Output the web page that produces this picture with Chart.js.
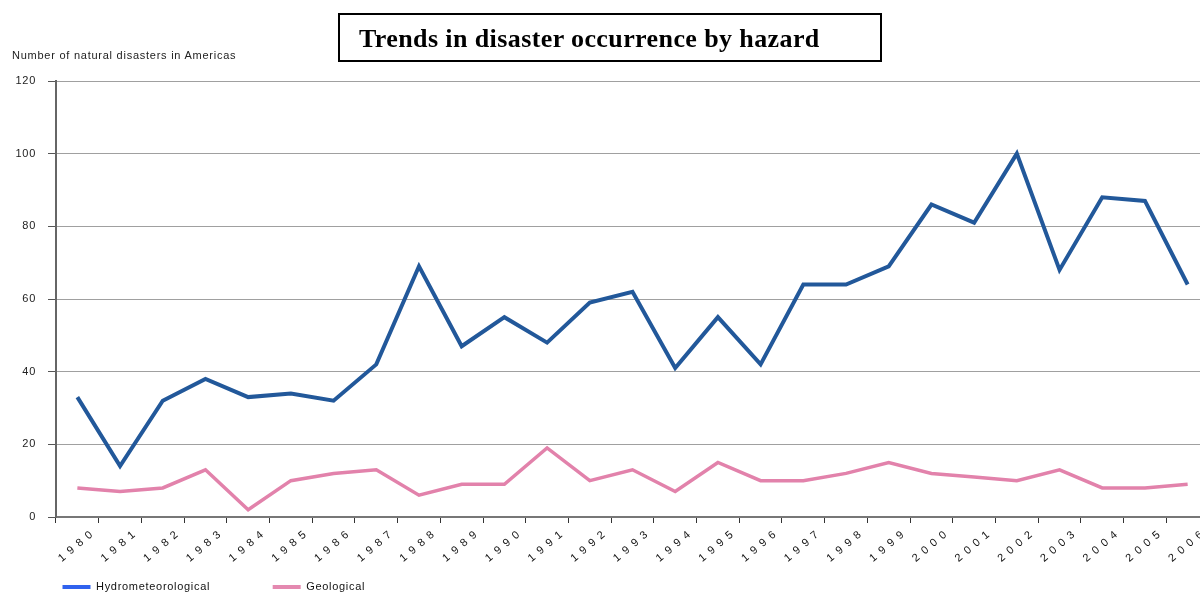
<!DOCTYPE html>
<html>
<head>
<meta charset="utf-8">
<script src="https://cdn.jsdelivr.net/npm/chart.js@4/dist/chart.umd.min.js"></script>
<style>
  html, body { margin: 0; padding: 0; background: #fff; }
  body { width: 1200px; height: 593px; overflow: hidden; position: relative; }
  #wrap { position: absolute; left: 0; top: 0; width: 1215px; height: 600px; }
  #ytitle { position: absolute; left: 12px; top: 48px; font: 11px "Liberation Sans", Arial, sans-serif;
            letter-spacing: 0.75px; line-height: 14px; color: #222; white-space: nowrap; }
  #title { position: absolute; left: 338px; top: 13px; width: 544px; height: 49px; box-sizing: border-box;
           border: 2px solid #000; padding: 11px 0 0 19px; font: bold 26px "Liberation Serif", "Times New Roman", serif;
           letter-spacing: 0.4px; line-height: 26px; color: #000; white-space: nowrap; overflow: hidden; }
</style>
</head>
<body>
<div id="wrap"><canvas id="c"></canvas></div>
<div id="ytitle">Number of natural disasters in Americas</div>
<div id="title">Trends in disaster occurrence by hazard</div>
<script>
const years = ['1980','1981','1982','1983','1984','1985','1986','1987','1988','1989','1990','1991','1992','1993',
               '1994','1995','1996','1997','1998','1999','2000','2001','2002','2003','2004','2005','2006'];
const hydrometeorological = [33,14,32,38,33,34,32,42,69,47,55,48,59,62,41,55,42,64,64,69,86,81,100,68,88,87,64];
const geological = [8,7,8,13,2,10,12,13,6,9,9,19,10,13,7,15,10,10,12,15,12,11,10,13,8,8,9];
const seriesNames = ['Hydrometeorological', 'Geological'];
const yMin = 0, yMax = 120, yStep = 20;

const lineColors = ['#22589a', '#e282ab'];
const legendColors = ['#3062ee', '#e489b0'];

class SpacedCategoryScale extends Chart.CategoryScale {
  _computeLabelArea() { return undefined; }
  drawLabels(area) {
    const ctx = this.ctx;
    const prev = ctx.letterSpacing;
    ctx.letterSpacing = '5.5px';
    super.drawLabels(area);
    ctx.letterSpacing = prev;
  }
}
SpacedCategoryScale.id = 'spacedCategory';
SpacedCategoryScale.defaults = Chart.CategoryScale.defaults;
Chart.register(SpacedCategoryScale);

const spacingPlugin = {
  id: 'spacing',
  beforeUpdate(chart) { chart.ctx.letterSpacing = '0.7px'; },
  beforeDraw(chart) { chart.ctx.letterSpacing = '0.7px'; },
  beforeLayout(chart) {
    const lg = chart.legend;
    if (lg && !lg._patched) {
      const f = lg.fit;
      lg.fit = function () { f.call(this); this.height = 81; };
      lg._patched = true;
    }
  }
};

const tickFont = { family: '"Liberation Sans", Arial, sans-serif', size: 11 };

new Chart(document.getElementById('c'), {
  type: 'line',
  data: {
    labels: years,
    datasets: [
      { label: seriesNames[0], data: hydrometeorological, borderColor: lineColors[0], backgroundColor: legendColors[0],
        borderWidth: 4, pointRadius: 0, tension: 0, fill: false },
      { label: seriesNames[1], data: geological, borderColor: lineColors[1], backgroundColor: legendColors[1],
        borderWidth: 3.5, pointRadius: 0, tension: 0, fill: false }
    ]
  },
  options: {
    responsive: true,
    maintainAspectRatio: false,
    animation: false,
    layout: { padding: { top: 81, left: 0, right: 6, bottom: 0 } },
    plugins: {
      title: { display: false },
      tooltip: { enabled: false },
      legend: {
        position: 'bottom',
        align: 'start',
        labels: {
          boxWidth: 28, boxHeight: 4, padding: 62.5, color: '#111', font: tickFont,
          generateLabels(chart) {
            const items = Chart.defaults.plugins.legend.labels.generateLabels(chart);
            items.forEach((it, i) => { it.fillStyle = legendColors[i]; it.strokeStyle = legendColors[i]; it.lineWidth = 0; });
            return items;
          }
        }
      }
    },
    scales: {
      x: {
        type: 'spacedCategory',
        offset: true,
        grid: { display: true, drawOnChartArea: false, drawTicks: true, tickLength: 6, color: '#333', offset: true },
        border: { display: true, color: '#777', width: 2 },
        ticks: { autoSkip: false, minRotation: 40, maxRotation: 40, labelOffset: 18, padding: 2, color: '#111', font: tickFont },
        afterFit(scale) { scale.height = 2; scale.paddingLeft = 0; scale.paddingRight = 0; }
      },
      y: {
        min: yMin, max: yMax,
        grid: { color: '#a0a0a0', lineWidth: 1, tickLength: 8, tickColor: '#555' },
        border: { display: true, color: '#666', width: 2 },
        ticks: { stepSize: yStep, padding: 12, color: '#222', font: tickFont },
        afterFit(scale) { scale.width = 56; }
      }
    }
  },
  plugins: [spacingPlugin]
});
</script>
</body>
</html>
